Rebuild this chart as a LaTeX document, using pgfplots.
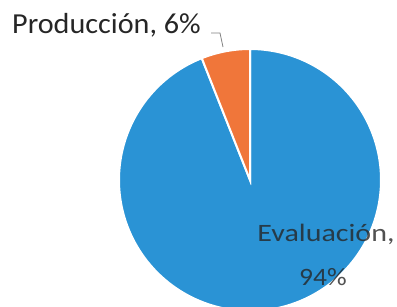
\documentclass[border=0pt]{standalone}
\usepackage{pgfplots}
\pgfplotsset{compat=1.18}
\usepackage{fontspec}
\setmainfont{Carlito}
\definecolor{piblue}{HTML}{2A93D5}
\definecolor{piorange}{HTML}{F0763A}
\definecolor{lbl}{HTML}{262626}
\begin{document}
\begin{tikzpicture}
\begin{axis}[hide axis, scale only axis, x=1bp, y=1bp,
  xmin=0, xmax=397, ymin=0, ymax=307, clip=true]
\path (axis cs:0,0) rectangle (axis cs:397,307);
% Evaluacion 94%
\addplot[fill=piblue, draw=white, line width=2bp, domain=6:100, samples=200, variable=\t]
  ({250+131*cos(90+3.6*\t)}, {127+131*sin(90+3.6*\t)}) -- (axis cs:250,127) -- cycle;
% Produccion 6%
\addplot[fill=piorange, draw=white, line width=2bp, domain=0:6, samples=30, variable=\t]
  ({250+131*cos(90+3.6*\t)}, {127+131*sin(90+3.6*\t)}) -- (axis cs:250,127) -- cycle;
% leader line
\addplot[color=gray, line width=0.8bp, mark=none] coordinates {(211,274) (220,274) (223,260)};
\node[anchor=base west, inner sep=0pt, text=lbl, xscale=1.04, font=\fontsize{29bp}{32bp}\selectfont] at (axis cs:12,274) {Producción, 6\%};
\node[anchor=base, inner sep=0pt, text=lbl, text opacity=0.8, xscale=1.2, font=\fontsize{25bp}{28bp}\selectfont] at (axis cs:326,66) {Evaluación,};
\node[anchor=base, inner sep=0pt, text=lbl, text opacity=0.8, xscale=1.1, font=\fontsize{25bp}{28bp}\selectfont] at (axis cs:323,22) {94\%};
\end{axis}
\end{tikzpicture}
\end{document}
